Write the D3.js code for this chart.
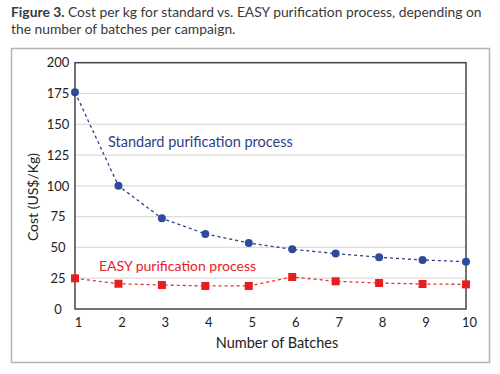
<!DOCTYPE html>
<html><head><meta charset="utf-8">
<script src="https://cdn.jsdelivr.net/npm/d3@7/dist/d3.min.js"></script>
<style>body{margin:0;background:#fff}svg{display:block}</style>
</head><body>
<script>
const batches = [1,2,3,4,5,6,7,8,9,10];
const standardCost = [176, 100, 73.6, 61, 53.6, 48.5, 45, 42, 39.8, 38.4];
const easyCost = [24.9, 20.5, 19.5, 18.7, 18.7, 26, 22.5, 21.1, 20.3, 20];
const yTicks = [0,25,50,75,100,125,150,175,200];
const titleBold = "Figure 3.";
const titleLine1 = " Cost per kg for standard vs. EASY purification process, depending on";
const titleLine2 = "the number of batches per campaign.";

const W = 500, H = 374;
const svg = d3.select("body").append("svg").attr("width", W).attr("height", H);
const font = "Lato, 'Open Sans', sans-serif";

// title (fit to reference width)
let fs = 14.6;
const t1 = svg.append("text").attr("x", 11).attr("y", 16.5).attr("font-family", font).attr("font-size", fs).attr("fill", "#3a3a3a");
t1.append("tspan").attr("font-weight", "bold").text(titleBold);
t1.append("tspan").text(titleLine1);
const w1 = t1.node().getComputedTextLength();
fs = fs * 471 / w1;
t1.attr("font-size", fs);
svg.append("text").attr("x", 11).attr("y", 33.5).attr("font-family", font).attr("font-size", fs).attr("fill", "#3a3a3a").text(titleLine2);

// outer frame
svg.append("rect").attr("x", 11.5).attr("y", 48.5).attr("width", 478).attr("height", 314)
  .attr("fill", "none").attr("stroke", "#b5b5b5").attr("stroke-width", 1.5);

const x = d3.scaleLinear().domain([1, 10]).range([75, 466]);
const y = d3.scaleLinear().domain([0, 200]).range([309, 62.7]);

// gridlines
svg.append("g").selectAll("line").data(yTicks.filter(d => d > 0 && d < 200)).join("line")
  .attr("x1", 75).attr("x2", 466).attr("y1", d => y(d)).attr("y2", d => y(d))
  .attr("stroke", "#dcdcdc").attr("stroke-width", 1.2);

// plot border
svg.append("rect").attr("x", 75).attr("y", y(200)).attr("width", 391).attr("height", y(0) - y(200))
  .attr("fill", "none").attr("stroke", "#444").attr("stroke-width", 1.5);

// y axis labels
const yAxis = d3.axisLeft(y).tickValues(yTicks).tickSize(0).tickPadding(0);
const gy = svg.append("g").attr("transform", "translate(58,0)").call(yAxis);
gy.select(".domain").remove();
gy.selectAll("text").attr("text-anchor", "middle").attr("font-family", font).attr("font-size", 13).attr("fill", "#222");

// x axis labels
const xAxis = d3.axisBottom(x).tickValues(batches).tickSize(0).tickPadding(0).tickFormat(d3.format("d"));
const gx = svg.append("g").attr("transform", "translate(3,318)").call(xAxis);
gx.select(".domain").remove();
gx.selectAll("text").attr("font-family", font).attr("font-size", 13).attr("fill", "#222");

// axis titles
svg.append("text").attr("x", 277).attr("y", 348).attr("text-anchor", "middle")
  .attr("font-family", font).attr("font-size", 14.5).attr("fill", "#222").text("Number of Batches");
svg.append("text").attr("transform", "translate(38,197) rotate(-90)").attr("text-anchor", "middle")
  .attr("font-family", font).attr("font-size", 14).attr("fill", "#222").text("Cost (US$/Kg)");

const line = d3.line().x((d, i) => x(batches[i])).y(d => y(d));

// standard series
svg.append("path").datum(standardCost).attr("d", line).attr("fill", "none")
  .attr("stroke", "#2e3f85").attr("stroke-width", 1.3).attr("stroke-dasharray", "3,3");
svg.append("g").selectAll("circle").data(standardCost).join("circle")
  .attr("cx", (d, i) => x(batches[i])).attr("cy", d => y(d)).attr("r", 4).attr("fill", "#2f4a9c");

// easy series
svg.append("path").datum(easyCost).attr("d", line).attr("fill", "none")
  .attr("stroke", "#e8302f").attr("stroke-width", 1.3).attr("stroke-dasharray", "3,3");
svg.append("g").selectAll("rect").data(easyCost).join("rect")
  .attr("x", (d, i) => x(batches[i]) - 4).attr("y", d => y(d) - 4).attr("width", 8).attr("height", 8).attr("fill", "#e81e1e");

// series labels
svg.append("text").attr("x", 108).attr("y", 147).attr("font-family", font).attr("font-size", 14.5)
  .attr("fill", "#2e3f85").text("Standard purification process");
svg.append("text").attr("x", 99).attr("y", 271).attr("font-family", font).attr("font-size", 14)
  .attr("fill", "#e8201f").text("EASY purification process");
</script>
</body></html>
